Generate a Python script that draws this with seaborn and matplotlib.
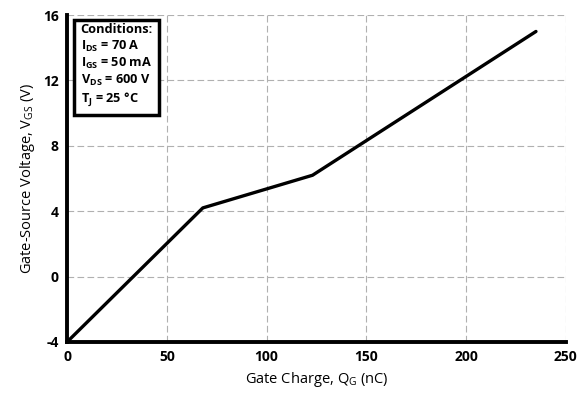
import numpy as np
import matplotlib.pyplot as plt
import seaborn as sns
import pandas as pd

sns.set_style('white')
plt.rcParams['font.family'] = ['Open Sans', 'DejaVu Sans']
plt.rcParams['mathtext.default'] = 'regular'
plt.rcParams['axes.unicode_minus'] = False
plt.rcParams['text.color'] = 'black'
plt.rcParams['axes.labelcolor'] = 'black'

# gate charge curve
qg = [0, 68, 123, 235]
vgs = [-4, 4.2, 6.2, 15.0]
conditions = ['Conditions:', '$I_{DS}$ = 70 A', '$I_{GS}$ = 50 mA',
              '$V_{DS}$ = 600 V', '$T_{J}$ = 25 °C']

df = pd.DataFrame({'qg': qg, 'vgs': vgs})

fig = plt.figure(figsize=(5.84, 3.98), dpi=100)
ax = fig.add_axes([0.115, 0.141, 0.854, 0.821])

sns.lineplot(data=df, x='qg', y='vgs', color='black', linewidth=2.4, ax=ax)

ax.set_xlim(0, 250)
ax.set_ylim(-4, 16)
ax.set_xticks(np.arange(0, 251, 50))
ax.set_yticks(np.arange(-4, 17, 4))
ax.grid(True, color='#b0b0b0', linestyle=(0, (6, 3)), linewidth=0.8)
for s in ['top', 'right']:
    ax.spines[s].set_visible(False)
for s in ['left', 'bottom']:
    ax.spines[s].set_linewidth(2.8)
    ax.spines[s].set_color('black')
ax.tick_params(direction='inout', length=5, width=2.5, colors='black', labelsize=10)
for lab in ax.get_xticklabels() + ax.get_yticklabels():
    lab.set_fontweight('bold')

ax.set_xlabel('Gate Charge, $Q_G$ (nC)', fontsize=10.5)
ax.set_ylabel('Gate-Source Voltage, $V_{GS}$ (V)', fontsize=10.5)

ax.text(0.027, 0.975, '\n'.join(conditions), transform=ax.transAxes,
        va='top', ha='left', fontsize=9.2, fontweight='bold', linespacing=1.2,
        bbox=dict(boxstyle='square,pad=0.5', facecolor='white',
                  edgecolor='black', linewidth=2.5))

fig.savefig('out.png', dpi=100)
